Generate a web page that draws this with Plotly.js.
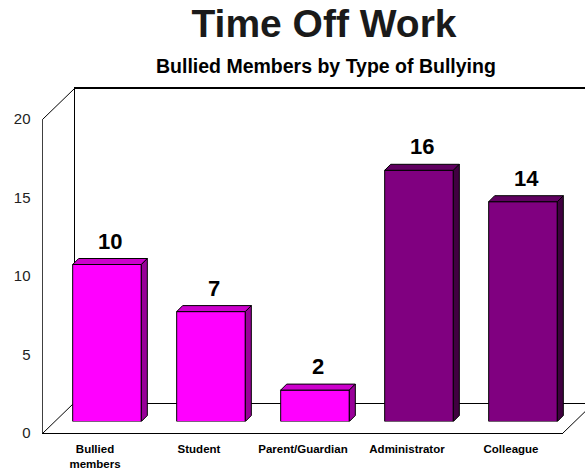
<!DOCTYPE html>
<html>
<head>
<meta charset="utf-8">
<script src="https://cdn.plot.ly/plotly-3.0.1.min.js"></script>
<style>html,body{margin:0;padding:0;background:#fff;}#chart{width:585px;height:474px;}</style>
</head>
<body>
<div id="chart"></div>
<script>
// ---- data ----
const categories = ['Bullied<br>members', 'Student', 'Parent/Guardian', 'Administrator', 'Colleague'];
const values = [10, 7, 2, 16, 14];
const yTickValues = [0, 5, 10, 15, 20];
const titleText = 'Time Off Work';
const subtitleText = 'Bullied Members by Type of Bullying';

// ---- styling / geometry ----
const W = 585, H = 474;
const faceColors = ['#FF00FF', '#FF00FF', '#FF00FF', '#800080', '#800080'];
const topColors  = ['#CC00CC', '#CC00CC', '#CC00CC', '#600060', '#600060'];
const sideColors = ['#990099', '#990099', '#990099', '#400040', '#400040'];
const font = 'Liberation Sans, Arial, sans-serif';

// front plane in pixels
const fx0 = 43, fx1 = 563, fyTop = 119, fyBot = 433;
const barShift = [12, 11.5];   // bar plane offset (px right, px up)
const backShift = [31.5, 30.5]; // back wall offset
const yMax = 20;
const xRange = [-0.5, 4.5];
const pxPerCat = (fx1 - fx0) / (xRange[1] - xRange[0]);
const pxPerUnit = (fyBot - fyTop) / yMax;
const barWidth = 0.66;
const depthPx = 6;
const dX = depthPx / pxPerCat, dY = depthPx / pxPerUnit;

const dom = (a, b, n) => [a / n, b / n];
const ydom = (top, bot) => [(H - bot) / H, (H - top) / H];

// back wall axes (xy) — right end clipped to canvas
const bx0 = fx0 + backShift[0];
const backXEnd = xRange[0] + (W - bx0) / pxPerCat;

const traces = [];
traces.push({type: 'scatter', x: [], y: [], xaxis: 'x', yaxis: 'y', hoverinfo: 'skip', showlegend: false});

// front faces of bars
const xs = categories.map((c, i) => i);
traces.push({
  type: 'bar', x: xs, y: values, xaxis: 'x2', yaxis: 'y2', width: barWidth,
  marker: {color: faceColors, line: {color: '#000', width: 1}},
  hoverinfo: 'skip', showlegend: false
});
// top and side faces
values.forEach((v, i) => {
  const l = i - barWidth / 2, r = i + barWidth / 2;
  traces.push({
    type: 'scatter', mode: 'lines', xaxis: 'x2', yaxis: 'y2', fill: 'toself',
    x: [l, r, r + dX, l + dX, l], y: [v, v, v + dY, v + dY, v],
    fillcolor: topColors[i], line: {color: '#000', width: 1}, hoverinfo: 'skip', showlegend: false
  });
  traces.push({
    type: 'scatter', mode: 'lines', xaxis: 'x2', yaxis: 'y2', fill: 'toself',
    x: [r, r, r + dX, r + dX, r], y: [0, v, v + dY, dY, 0],
    fillcolor: sideColors[i], line: {color: '#000', width: 1}, hoverinfo: 'skip', showlegend: false
  });
});
traces.push({type: 'scatter', x: [], y: [], xaxis: 'x3', yaxis: 'y3', hoverinfo: 'skip', showlegend: false});

const annotations = values.map((v, i) => ({
  xref: 'x2', yref: 'y2', x: i, y: v, text: String(v), showarrow: false,
  yanchor: 'bottom', xanchor: 'center', xshift: 3, yshift: 9,
  font: {family: font, size: 22, color: '#000', weight: 'bold'}
}));
annotations.push({
  xref: 'paper', yref: 'paper', x: 326 / W, y: 1 - 66 / H, text: subtitleText, showarrow: false,
  xanchor: 'center', yanchor: 'middle', font: {family: font, size: 19.5, color: '#000', weight: 'bold'}
});

const px = (x) => x / W, py = (y) => 1 - y / H;
const lineShape = (x0, y0, x1, y1) => ({
  type: 'line', xref: 'paper', yref: 'paper', layer: 'below',
  x0: px(x0), y0: py(y0), x1: px(x1), y1: py(y1), line: {color: '#000', width: 1}
});
const shapes = [
  lineShape(fx0, fyTop, fx0 + backShift[0], fyTop - backShift[1]),
  lineShape(fx0, fyBot, fx0 + backShift[0], fyBot - backShift[1]),
  lineShape(fx1, fyBot, fx1 + backShift[0], fyBot - backShift[1])
];

const hidden = {visible: false, fixedrange: true};
const layout = {
  width: W, height: H,
  margin: {l: 0, r: 0, t: 0, b: 0, pad: 0},
  paper_bgcolor: '#fff', plot_bgcolor: 'rgba(0,0,0,0)',
  showlegend: false,
  title: {text: titleText, x: 324 / W, xanchor: 'center', y: 1 - 23 / H, yanchor: 'middle', yref: 'container',
          font: {family: font, size: 39, color: '#1a1a1a', weight: 'bold'}},
  xaxis: {domain: [bx0 / W, 1], range: [xRange[0], backXEnd], anchor: 'y',
          showline: true, linecolor: '#000', linewidth: 1.5, mirror: true,
          showgrid: false, zeroline: false, showticklabels: false, ticks: '', fixedrange: true},
  yaxis: {domain: ydom(fyTop - backShift[1], fyBot - backShift[1]), range: [0, yMax], anchor: 'x',
          showline: true, linecolor: '#000', linewidth: 1,
          showgrid: false, zeroline: false, showticklabels: false, ticks: '', fixedrange: true},
  xaxis2: Object.assign({domain: dom(fx0 + barShift[0], fx1 + barShift[0], W), range: xRange, anchor: 'y2'}, hidden),
  yaxis2: Object.assign({domain: ydom(fyTop - barShift[1], fyBot - barShift[1]), range: [0, yMax], anchor: 'x2'}, hidden),
  xaxis3: {domain: dom(fx0, fx1, W), range: xRange, anchor: 'y3',
           showline: true, linecolor: '#000', linewidth: 1,
           showgrid: false, zeroline: false, ticks: '', fixedrange: true,
           tickmode: 'array', tickvals: xs, ticktext: categories, ticklabelstandoff: 5,
           tickfont: {family: font, size: 11.5, color: '#000', weight: 'bold'}},
  yaxis3: {domain: ydom(fyTop, fyBot), range: [0, yMax], anchor: 'x3',
           showline: true, linecolor: '#404040', linewidth: 1.5,
           showgrid: false, zeroline: false, ticks: '', fixedrange: true,
           tickmode: 'array', tickvals: yTickValues, ticklabelstandoff: 8,
           tickfont: {family: font, size: 15, color: '#222'}},
  annotations: annotations,
  shapes: shapes
};

Plotly.newPlot('chart', traces, layout, {displayModeBar: false, staticPlot: true});
</script>
</body>
</html>
